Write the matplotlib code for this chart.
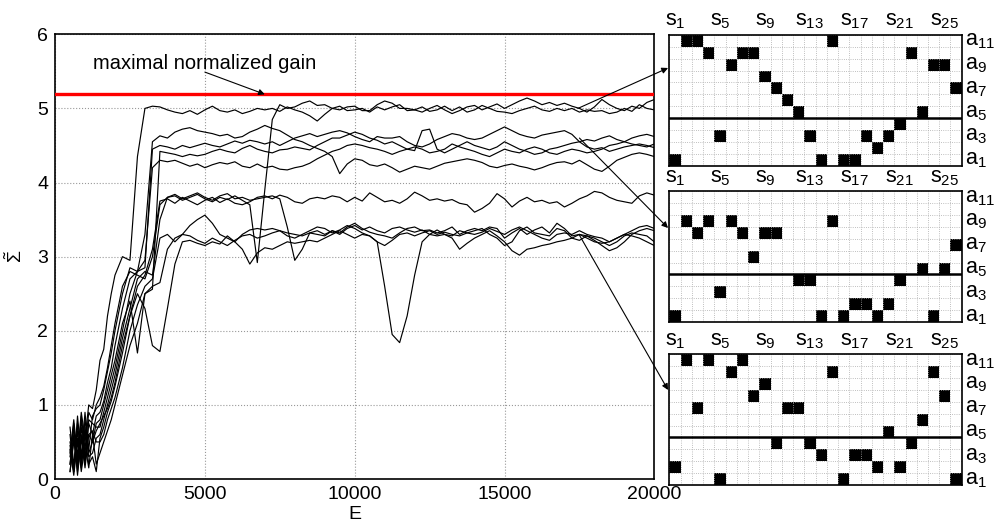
import numpy as np
import matplotlib
matplotlib.use('Agg')
import matplotlib.pyplot as plt
from matplotlib.colors import ListedColormap

plt.rcParams['font.family'] = ['Liberation Sans', 'DejaVu Sans']
plt.rcParams['mathtext.fontset'] = 'custom'
plt.rcParams['mathtext.rm'] = 'Liberation Sans'
plt.rcParams['mathtext.it'] = 'Liberation Sans:italic'
plt.rcParams['mathtext.sf'] = 'Liberation Sans'

# episodes (x axis): every 125 up to 1875, then every 250
E = [500, 625, 750, 875, 1000, 1125, 1250, 1375, 1500, 1625, 1750, 1875,
     2000, 2250, 2500, 2750,
     3000, 3250, 3500, 3750, 4000, 4250, 4500, 4750, 5000, 5250,
     5500, 5750, 6000, 6250, 6500, 6750, 7000, 7250, 7500, 7750,
     8000, 8250, 8500, 8750, 9000, 9250, 9500, 9750, 10000, 10250,
     10500, 10750, 11000, 11250, 11500, 11750, 12000, 12250, 12500, 12750,
     13000, 13250, 13500, 13750, 14000, 14250, 14500, 14750, 15000, 15250,
     15500, 15750, 16000, 16250, 16500, 16750, 17000, 17250, 17500, 17750,
     18000, 18250, 18500, 18750, 19000, 19250, 19500, 19750, 20000]

run_a = [0.35, 0.8, 0.3, 0.9, 0.55, 1.0, 0.95, 1.2, 1.6, 1.75, 2.2, 2.5,
         2.75, 3.0, 2.95, 4.35,
         5.0, 5.03, 5.02, 4.98, 4.95, 4.93, 4.97, 4.92, 4.98, 5.03,
         4.97, 4.95, 4.98, 4.93, 4.96, 5.0, 4.98, 5.0, 4.96, 5.02,
         4.98, 4.95, 4.9, 4.83, 4.92, 5.0, 5.03, 4.97, 4.98, 5.0,
         4.95, 5.02, 4.98, 5.02, 5.05, 4.97, 4.98, 5.02, 4.96, 4.98,
         5.03, 4.97, 5.02, 4.95, 4.98, 5.04, 5.0, 4.96, 4.95, 4.93,
         4.97, 5.0, 5.03, 4.98, 4.96, 5.0, 4.97, 5.0, 4.95, 4.98,
         4.96, 4.97, 4.93, 4.95, 5.0, 4.96, 5.05, 5.0, 4.98]
run_b = [0.2, 0.7, 0.15, 0.85, 0.4, 0.9, 0.8, 1.0, 1.1, 1.25, 1.5, 1.8,
         2.1, 2.6, 2.8, 2.75,
         2.7, 3.0, 3.7, 3.8, 3.82, 3.76, 3.8, 3.84, 3.78, 3.74,
         3.8, 3.77, 3.82, 3.76, 3.7, 2.92, 3.9, 4.85, 5.05, 5.0,
         5.02, 5.07, 5.1, 5.04, 5.05, 5.0, 4.98, 5.02, 5.03, 4.97,
         4.97, 5.05, 5.1, 5.07, 5.0, 5.0, 4.98, 4.95, 5.0, 5.04,
         4.98, 4.93, 4.97, 5.02, 5.04, 4.98, 5.02, 5.06, 5.0, 5.05,
         5.1, 5.14, 5.1, 5.05, 5.08, 5.04, 5.07, 5.03, 5.0, 4.95,
         5.02, 5.12, 5.05, 5.0, 4.97, 5.03, 5.0, 5.08, 5.12]
run_c = [0.6, 0.1, 0.75, 0.25, 0.8, 0.4, 0.85, 0.95, 1.0, 1.2, 1.45, 1.7,
         2.0, 2.5, 2.85, 2.8,
         3.3, 4.55, 4.63, 4.6, 4.68, 4.72, 4.74, 4.7, 4.68, 4.66,
         4.63, 4.65, 4.6, 4.62, 4.68, 4.72, 4.77, 4.73, 4.7, 4.64,
         4.58, 4.55, 4.5, 4.46, 4.42, 4.35, 4.12, 4.25, 4.32, 4.3,
         4.24, 4.22, 4.25, 4.2, 4.14, 4.18, 4.22, 4.2, 4.18, 4.22,
         4.26, 4.28, 4.3, 4.32, 4.3, 4.27, 4.22, 4.2, 4.23, 4.25,
         4.22, 4.2, 4.17, 4.2, 4.24, 4.27, 4.28, 4.25, 4.3, 4.24,
         4.18, 4.15, 4.22, 4.3, 4.34, 4.38, 4.4, 4.38, 4.35]
run_d = [0.1, 0.55, 0.2, 0.7, 0.25, 0.75, 0.6, 0.85, 0.9, 1.05, 1.3, 1.5,
         1.8, 2.3, 2.7, 2.8,
         2.85, 4.45, 4.5, 4.48, 4.45, 4.5, 4.47, 4.5, 4.53, 4.5,
         4.48, 4.52, 4.56, 4.53, 4.57, 4.55, 4.52, 4.55, 4.5, 4.55,
         4.6, 4.63, 4.66, 4.62, 4.65, 4.68, 4.7, 4.67, 4.62, 4.58,
         4.55, 4.62, 4.6, 4.6, 4.62, 4.55, 4.5, 4.48, 4.52, 4.58,
         4.62, 4.66, 4.64, 4.6, 4.58, 4.6, 4.65, 4.7, 4.75, 4.7,
         4.65, 4.62, 4.6, 4.64, 4.66, 4.68, 4.7, 4.65, 4.55, 4.48,
         4.45, 4.47, 4.42, 4.45, 4.48, 4.5, 4.52, 4.5, 4.47]
run_e = [0.5, 0.15, 0.85, 0.3, 0.9, 0.35, 0.5, 0.75, 0.8, 1.0, 1.2, 1.4,
         1.6, 2.1, 2.4, 1.7,
         2.5, 2.56, 4.42, 4.4, 4.38, 4.35, 4.38, 4.36, 4.38, 4.42,
         4.45, 4.42, 4.4, 4.46, 4.5, 4.45, 4.42, 4.4, 4.44, 4.45,
         4.48, 4.46, 4.44, 4.5, 4.55, 4.6, 4.6, 4.64, 4.68, 4.65,
         4.6, 4.57, 4.52, 4.55, 4.5, 4.45, 4.43, 4.7, 4.72, 4.45,
         4.4, 4.45, 4.5, 4.55, 4.5, 4.47, 4.44, 4.48, 4.55, 4.5,
         4.45, 4.42, 4.38, 4.4, 4.45, 4.47, 4.5, 4.53, 4.55, 4.58,
         4.56, 4.6, 4.63, 4.58, 4.55, 4.52, 4.5, 4.48, 4.52]
run_f = [0.3, 0.75, 0.1, 0.6, 0.2, 0.8, 0.75, 0.7, 0.7, 0.9, 1.1, 1.3,
         1.5, 2.0, 2.5, 2.8,
         2.95, 4.2, 4.3, 4.28, 4.3, 4.26, 4.22, 4.25, 4.2, 4.24,
         4.27, 4.25, 4.28, 4.22, 4.2, 4.25, 4.2, 4.22, 4.18, 4.17,
         4.2, 4.22, 4.26, 4.32, 4.37, 4.42, 4.45, 4.5, 4.52, 4.5,
         4.47, 4.45, 4.42, 4.38, 4.42, 4.45, 4.48, 4.45, 4.4, 4.42,
         4.45, 4.52, 4.48, 4.45, 4.42, 4.38, 4.35, 4.4, 4.45, 4.42,
         4.4, 4.45, 4.48, 4.45, 4.4, 4.38, 4.42, 4.45, 4.43, 4.4,
         4.42, 4.45, 4.5, 4.52, 4.55, 4.6, 4.63, 4.65, 4.62]
run_g = [0.45, 0.1, 0.65, 0.2, 0.7, 0.3, 0.35, 0.55, 0.6, 0.8, 1.0, 1.2,
         1.4, 1.9, 2.3, 2.7,
         2.8, 2.75, 3.5, 3.8, 3.84, 3.78, 3.82, 3.86, 3.8, 3.76,
         3.82, 3.85, 3.78, 3.8, 3.76, 3.78, 3.8, 3.82, 3.78, 3.4,
         2.95, 3.1, 3.32, 3.3, 3.28, 3.35, 3.3, 3.38, 3.42, 3.36,
         3.4, 3.35, 3.32, 3.38, 3.4, 3.36, 3.33, 3.36, 3.3, 3.28,
         3.3, 3.25, 3.1, 3.18, 3.25, 3.3, 3.35, 3.28, 3.2, 3.08,
         3.02, 3.1, 3.12, 3.15, 3.17, 3.2, 3.22, 3.25, 3.3, 3.28,
         3.22, 3.15, 3.08, 3.12, 3.2, 3.3, 3.35, 3.38, 3.35]
run_h = [0.2, 0.6, 0.05, 0.55, 0.15, 0.6, 0.5, 0.65, 0.75, 0.85, 0.95, 1.1,
         1.3, 1.8, 2.2, 2.6,
         2.75, 3.1, 3.75, 3.78, 3.72, 3.8, 3.75, 3.7, 3.76, 3.8,
         3.73, 3.78, 3.72, 3.7, 3.74, 3.8, 3.82, 3.78, 3.83, 3.8,
         3.74, 3.72, 3.78, 3.8, 3.78, 3.82, 3.8, 3.74, 3.8, 3.75,
         3.86, 3.8, 3.74, 3.76, 3.72, 3.78, 3.87, 3.82, 3.76, 3.78,
         3.75, 3.77, 3.72, 3.7, 3.6, 3.65, 3.72, 3.85, 3.78, 3.67,
         3.75, 3.8, 3.74, 3.76, 3.72, 3.74, 3.67, 3.72, 3.78, 3.82,
         3.88, 3.86, 3.8, 3.76, 3.74, 3.72, 3.82, 3.86, 3.83]
run_i = [0.4, 0.05, 0.5, 0.15, 0.6, 0.2, 0.3, 0.1, 0.55, 0.7, 0.9, 1.05,
         1.25, 1.7, 2.2, 2.5,
         2.3, 1.8, 1.72, 2.3, 2.9, 3.2, 3.22, 3.18, 3.15, 3.2,
         3.17, 3.28, 3.2, 3.1, 2.9, 3.05, 3.12, 3.1, 3.15, 3.2,
         3.18, 3.2, 3.22, 3.2, 3.25, 3.3, 3.35, 3.3, 3.25, 3.3,
         3.28, 3.2, 3.15, 3.22, 3.3, 3.32, 3.28, 3.32, 3.35, 3.3,
         3.33, 3.3, 3.28, 3.32, 3.35, 3.38, 3.3, 3.25, 3.15, 3.2,
         3.35, 3.4, 3.32, 3.3, 3.28, 3.38, 3.35, 3.25, 3.22, 3.28,
         3.25, 3.2, 3.15, 3.2, 3.28, 3.32, 3.3, 3.28, 3.2]
run_j = [0.1, 0.5, 0.25, 0.8, 0.3, 0.6, 0.65, 0.5, 0.5, 0.6, 0.8, 0.95,
         1.1, 1.5, 2.0, 2.35,
         2.6, 2.7, 3.25, 3.3, 3.2, 3.3, 3.42, 3.5, 3.56, 3.45,
         3.3, 3.25, 3.2, 3.3, 3.36, 3.38, 3.36, 3.38, 3.35, 3.32,
         3.3, 3.28, 3.32, 3.35, 3.3, 3.35, 3.32, 3.4, 3.45, 3.38,
         3.33, 3.3, 3.28, 3.25, 3.32, 3.38, 3.4, 3.35, 3.36, 3.32,
         3.35, 3.4, 3.3, 3.35, 3.38, 3.35, 3.4, 3.38, 3.25, 3.32,
         3.38, 3.3, 3.36, 3.4, 3.32, 3.45, 3.38, 3.28, 3.3, 3.25,
         3.2, 3.18, 3.2, 3.25, 3.3, 3.35, 3.4, 3.42, 3.38]
run_k = [0.7, 0.2, 0.55, 0.1, 0.45, 0.15, 0.6, 0.2, 0.35, 0.5, 0.65, 0.8,
         1.0, 1.4, 1.8, 2.1,
         2.5, 2.6, 2.65, 3.1, 3.25, 3.3, 3.28, 3.22, 3.18, 3.25,
         3.2, 3.15, 3.22, 3.28, 3.3, 3.25, 3.28, 3.32, 3.35, 3.28,
         3.25, 3.3, 3.35, 3.4, 3.38, 3.32, 3.36, 3.42, 3.38, 3.32,
         3.28, 3.2, 2.6, 1.95, 1.84, 2.2, 2.75, 3.2, 3.3, 3.36,
         3.3, 3.28, 3.35, 3.32, 3.3, 3.33, 3.38, 3.34, 3.3, 3.36,
         3.4, 3.35, 3.3, 3.25, 3.22, 3.3, 3.32, 3.3, 3.35, 3.3,
         3.27, 3.25, 3.2, 3.25, 3.3, 3.28, 3.25, 3.2, 3.15]

max_gain = 5.19

# greedy action per state s1..s26 for the three snapshots (None = no entry)
policy_top = [1, 11, 11, 10, 3, 9, 10, 10, 8, 7, 6, 5, 3, 1, 11, 1, 1, 3, 2, 3,
              4, 10, 5, 9, 9, 7]
policy_mid = [1, 9, 8, 9, 3, 9, 8, 6, 8, 8, None, 4, 4, 1, 9, 1, 2, 2, 1, 2,
              4, None, 5, 1, 5, 7]
policy_bot = [2, 11, 7, 11, 1, 10, 11, 8, 9, 4, 7, 7, 4, 3, 10, 1, 3, 3, 2, 5,
              2, 4, 6, 10, 8, 1]

FS = 14
GFS = 15.5

fig = plt.figure(figsize=(9.99, 5.29), dpi=100)
ax = fig.add_axes([0.0551, 0.0945, 0.5999, 0.8407])

for run in [run_a, run_b, run_c, run_d, run_e, run_f, run_g, run_h, run_i, run_j, run_k]:
    ax.plot(E, run, color='black', lw=0.85)
ax.axhline(max_gain, color='red', lw=2.4, zorder=3)

ax.set_xlim(0, 20000)
ax.set_ylim(0, 6)
ax.set_xticks([0, 5000, 10000, 15000, 20000])
ax.set_yticks([0, 1, 2, 3, 4, 5, 6])
ax.tick_params(labelsize=FS, length=0, pad=5)
ax.grid(True, ls=':', color='#999999', lw=0.8)
for sp in ax.spines.values():
    sp.set_linewidth(1.2)
ax.set_xlabel('E', fontsize=FS, labelpad=2)
ax.set_ylabel(r'$\tilde{\Sigma}$', fontsize=FS, labelpad=8)

ax.text(5000, 5.6, 'maximal normalized gain', ha='center', va='center', fontsize=14.5)
ax.annotate('', xy=(7000, max_gain), xytext=(5000, 5.49),
            arrowprops=dict(arrowstyle='-|>', color='black', lw=0.8, mutation_scale=9,
                            shrinkA=0, shrinkB=0))


def draw_policy(rect, actions):
    g = fig.add_axes(rect)
    n_s, n_a = len(actions), 11
    cells = np.zeros((n_a, n_s))
    for s, a in enumerate(actions):
        if a is not None:
            cells[a - 1, s] = 1
    g.pcolormesh(np.arange(n_s + 1), np.arange(n_a + 1), cells,
                 cmap=ListedColormap(['white', 'black']), vmin=0, vmax=1)
    g.set_xlim(0, n_s)
    g.set_ylim(0, n_a)
    g.set_xticks(np.arange(n_s + 1))
    g.set_yticks(np.arange(n_a + 1))
    g.set_xticklabels([])
    g.set_yticklabels([])
    g.tick_params(length=0)
    g.grid(True, ls=':', color='#aaaaaa', lw=0.6)
    g.axhline(4, color='black', lw=1.8)
    for sp in g.spines.values():
        sp.set_linewidth(1.2)
    for j in range(0, n_s, 4):
        g.text(j + 0.5, n_a + 0.3, r'$\mathrm{s}_{%d}$' % (j + 1), ha='center',
               va='bottom', fontsize=GFS)
    for a in range(1, n_a + 1, 2):
        g.text(n_s + 0.3, a - 0.5, r'$\mathrm{a}_{%d}$' % a, ha='left',
               va='center', fontsize=GFS)
    return g


draw_policy([0.670, 0.6868, 0.2927, 0.2471], policy_top)
draw_policy([0.670, 0.3913, 0.2927, 0.2471], policy_mid)
draw_policy([0.670, 0.0832, 0.2927, 0.2471], policy_bot)

# arrows from the curves to the snapshots
for start, end in [((17450, 5.0), (0.6687, 0.8715)),
                   ((17500, 4.6), (0.6687, 0.569)),
                   ((17500, 3.29), (0.6687, 0.2628))]:
    ax.annotate('', xy=end, xycoords='figure fraction', xytext=start, textcoords='data',
                arrowprops=dict(arrowstyle='-|>', color='black', lw=0.8, mutation_scale=9,
                                shrinkA=0, shrinkB=0), annotation_clip=False)

fig.savefig('out.png', dpi=100)
